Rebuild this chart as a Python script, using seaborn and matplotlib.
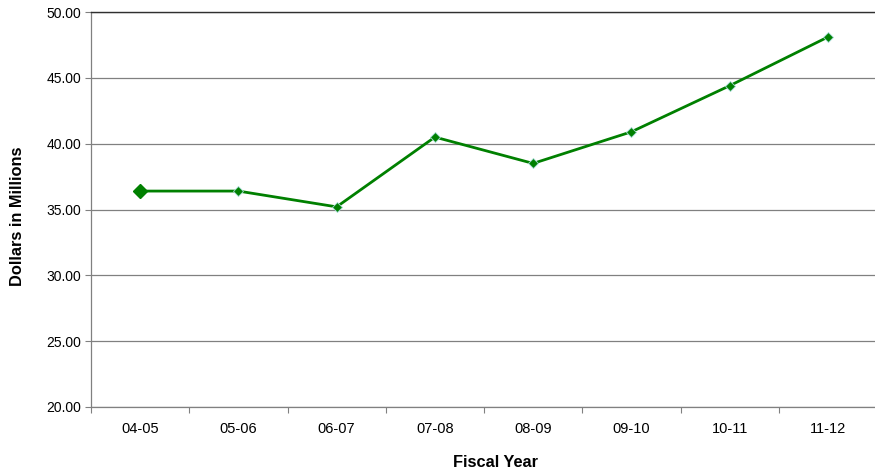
import matplotlib
matplotlib.use("Agg")
import matplotlib.pyplot as plt
import seaborn as sns
import pandas as pd
from matplotlib.ticker import FixedLocator

fiscal_years = ["04-05", "05-06", "06-07", "07-08", "08-09", "09-10", "10-11", "11-12"]
dollars_millions = [36.4, 36.4, 35.2, 40.5, 38.5, 40.9, 44.4, 48.1]
y_ticks = [20, 25, 30, 35, 40, 45, 50]

sns.set_style("white")
plt.rcParams["font.family"] = ["Liberation Sans", "DejaVu Sans"]
plt.rcParams["text.color"] = "black"
plt.rcParams["axes.labelcolor"] = "black"

df = pd.DataFrame({"pos": range(len(fiscal_years)), "value": dollars_millions})

fig = plt.figure(figsize=(8.75, 4.76), dpi=100)
ax = fig.add_axes([91 / 875, 1 - 407 / 476, 786 / 875, 395 / 476])

green = "#008000"
sns.lineplot(data=df, x="pos", y="value", ax=ax, color=green, linewidth=2.0,
             marker="D", markersize=5, markerfacecolor=green,
             markeredgecolor="#a8dcd8", markeredgewidth=0.6, zorder=3)
# first point drawn with a larger marker
ax.plot(df["pos"].iloc[:1], df["value"].iloc[:1], marker="D", markersize=7,
        color=green, markeredgecolor=green, linestyle="none", zorder=4)

ax.set_xlim(-0.5, len(fiscal_years) - 0.5)
ax.set_ylim(20, 50)
ax.set_yticks(y_ticks)
ax.set_yticklabels([f"{v:.2f}" for v in y_ticks])
ax.set_xticks(range(len(fiscal_years)))
ax.set_xticklabels(fiscal_years)
ax.xaxis.set_minor_locator(FixedLocator([i - 0.5 for i in range(len(fiscal_years) + 1)]))

ax.tick_params(axis="x", which="major", length=0, pad=11, labelsize=10.5, colors="black")
ax.tick_params(axis="x", which="minor", length=4, width=0.8, color="#808080", direction="out")
ax.tick_params(axis="y", which="major", length=4, width=0.8, color="#808080",
               direction="out", pad=3, labelsize=10, labelcolor="black")
ax.tick_params(axis="both", bottom=True, left=True, which="both")

ax.grid(axis="y", color="#808080", linewidth=0.9)
ax.set_axisbelow(True)

for side in ["left", "bottom"]:
    ax.spines[side].set_visible(True)
    ax.spines[side].set_color("#808080")
    ax.spines[side].set_linewidth(0.9)
ax.spines["right"].set_visible(False)
ax.spines["top"].set_visible(True)
ax.spines["top"].set_color("#303030")
ax.spines["top"].set_linewidth(1.0)

ax.set_xlabel("Fiscal Year", fontsize=11.8, fontweight="bold", va="center", color="black")
ax.xaxis.set_label_coords(0.514, -0.1405)
ax.set_ylabel("Dollars in Millions", fontsize=11.8, fontweight="bold", va="center", color="black")
ax.yaxis.set_label_coords(-0.094, 0.482)

fig.savefig("out.png", dpi=100)
